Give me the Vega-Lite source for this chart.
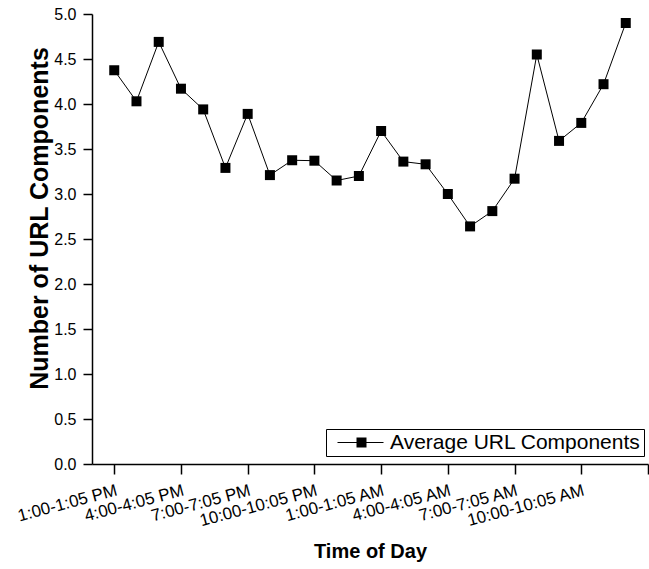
{
  "$schema": "https://vega.github.io/schema/vega-lite/v6.json",
  "width": 556,
  "height": 450,
  "autosize": "none",
  "padding": {"left": 92, "top": 14, "right": 1, "bottom": 105},
  "background": "white",
  "config": {
    "view": {"stroke": null},
    "font": "Liberation Sans",
    "axis": {"grid": false, "domainColor": "black", "tickColor": "black", "labelColor": "black", "titleColor": "black", "domainWidth": 1.5, "tickWidth": 1.5, "labelFont": "Liberation Sans", "titleFont": "Liberation Sans"}
  },
  "data": {
    "values": [
      {"idx": 0, "time": "1:00-1:05 PM", "value": 4.375},
      {"idx": 1, "time": "2:00-2:05 PM", "value": 4.03},
      {"idx": 2, "time": "3:00-3:05 PM", "value": 4.69},
      {"idx": 3, "time": "4:00-4:05 PM", "value": 4.17},
      {"idx": 4, "time": "5:00-5:05 PM", "value": 3.94},
      {"idx": 5, "time": "6:00-6:05 PM", "value": 3.29},
      {"idx": 6, "time": "7:00-7:05 PM", "value": 3.89},
      {"idx": 7, "time": "8:00-8:05 PM", "value": 3.21},
      {"idx": 8, "time": "9:00-9:05 PM", "value": 3.375},
      {"idx": 9, "time": "10:00-10:05 PM", "value": 3.37},
      {"idx": 10, "time": "11:00-11:05 PM", "value": 3.15},
      {"idx": 11, "time": "12:00-12:05 AM", "value": 3.2},
      {"idx": 12, "time": "1:00-1:05 AM", "value": 3.7},
      {"idx": 13, "time": "2:00-2:05 AM", "value": 3.36},
      {"idx": 14, "time": "3:00-3:05 AM", "value": 3.33},
      {"idx": 15, "time": "4:00-4:05 AM", "value": 3.0},
      {"idx": 16, "time": "5:00-5:05 AM", "value": 2.64},
      {"idx": 17, "time": "6:00-6:05 AM", "value": 2.81},
      {"idx": 18, "time": "7:00-7:05 AM", "value": 3.17},
      {"idx": 19, "time": "8:00-8:05 AM", "value": 4.55},
      {"idx": 20, "time": "9:00-9:05 AM", "value": 3.59},
      {"idx": 21, "time": "10:00-10:05 AM", "value": 3.79},
      {"idx": 22, "time": "11:00-11:05 AM", "value": 4.22},
      {"idx": 23, "time": "12:00-12:05 PM", "value": 4.9}
    ]
  },
  "encoding": {
    "x": {
      "field": "idx", "type": "quantitative",
      "scale": {"domain": [-1, 24], "nice": false, "zero": false},
      "axis": {
        "title": "Time of Day",
        "titleFontSize": 20, "titleFontWeight": "bold",
        "titleX": 278, "titleY": 87, "titleBaseline": "middle", "titleAlign": "center",
        "values": [0, 3, 6, 9, 12, 15, 18, 21, 24],
        "labelExpr": "datum.value == 24 ? '' : ['1:00-1:05 PM','4:00-4:05 PM','7:00-7:05 PM','10:00-10:05 PM','1:00-1:05 AM','4:00-4:05 AM','7:00-7:05 AM','10:00-10:05 AM'][datum.value/3]",
        "labelAngle": -15, "labelAlign": "right", "labelBaseline": "top",
        "labelFontSize": 17, "labelPadding": 8, "tickSize": 10,
        "labelOverlap": false, "labelFlush": false, "labelBound": false
      }
    },
    "y": {
      "field": "value", "type": "quantitative",
      "scale": {"domain": [0, 5], "nice": false},
      "axis": {
        "title": "Number of URL Components",
        "titleFontSize": 25, "titleFontWeight": "bold",
        "titleAngle": -90, "titleX": -53, "titleY": 204, "titleBaseline": "middle", "titleAlign": "center",
        "values": [0, 0.5, 1, 1.5, 2, 2.5, 3, 3.5, 4, 4.5, 5],
        "format": ".1f",
        "labelFontSize": 16, "labelPadding": 7, "tickSize": 9
      }
    },
    "color": {
      "datum": "Average URL Components",
      "type": "nominal",
      "scale": {"range": ["black"]},
      "legend": {
        "title": null,
        "orient": "none",
        "legendX": 234,
        "legendY": 415,
        "strokeColor": "black",
        "padding": 3,
        "labelFontSize": 21,
        "labelLimit": 400,
        "labelFont": "Liberation Sans",
        "labelColor": "black",
        "labelOffset": 40,
        "symbolType": "M-0.4,-0.1H3.4V-1H5.4V-0.1H8.8V0.1H5.4V1H3.4V0.1H-0.4Z",
        "symbolSize": 100,
        "symbolFillColor": "black",
        "symbolStrokeWidth": 0,
        "symbolOpacity": 1,
        "fillColor": "white"
      }
    }
  },
  "layer": [
    {"mark": {"type": "line", "strokeWidth": 1, "color": "black"}},
    {"mark": {"type": "point", "shape": "square", "filled": true, "size": 100, "opacity": 1, "color": "black"}}
  ]
}
